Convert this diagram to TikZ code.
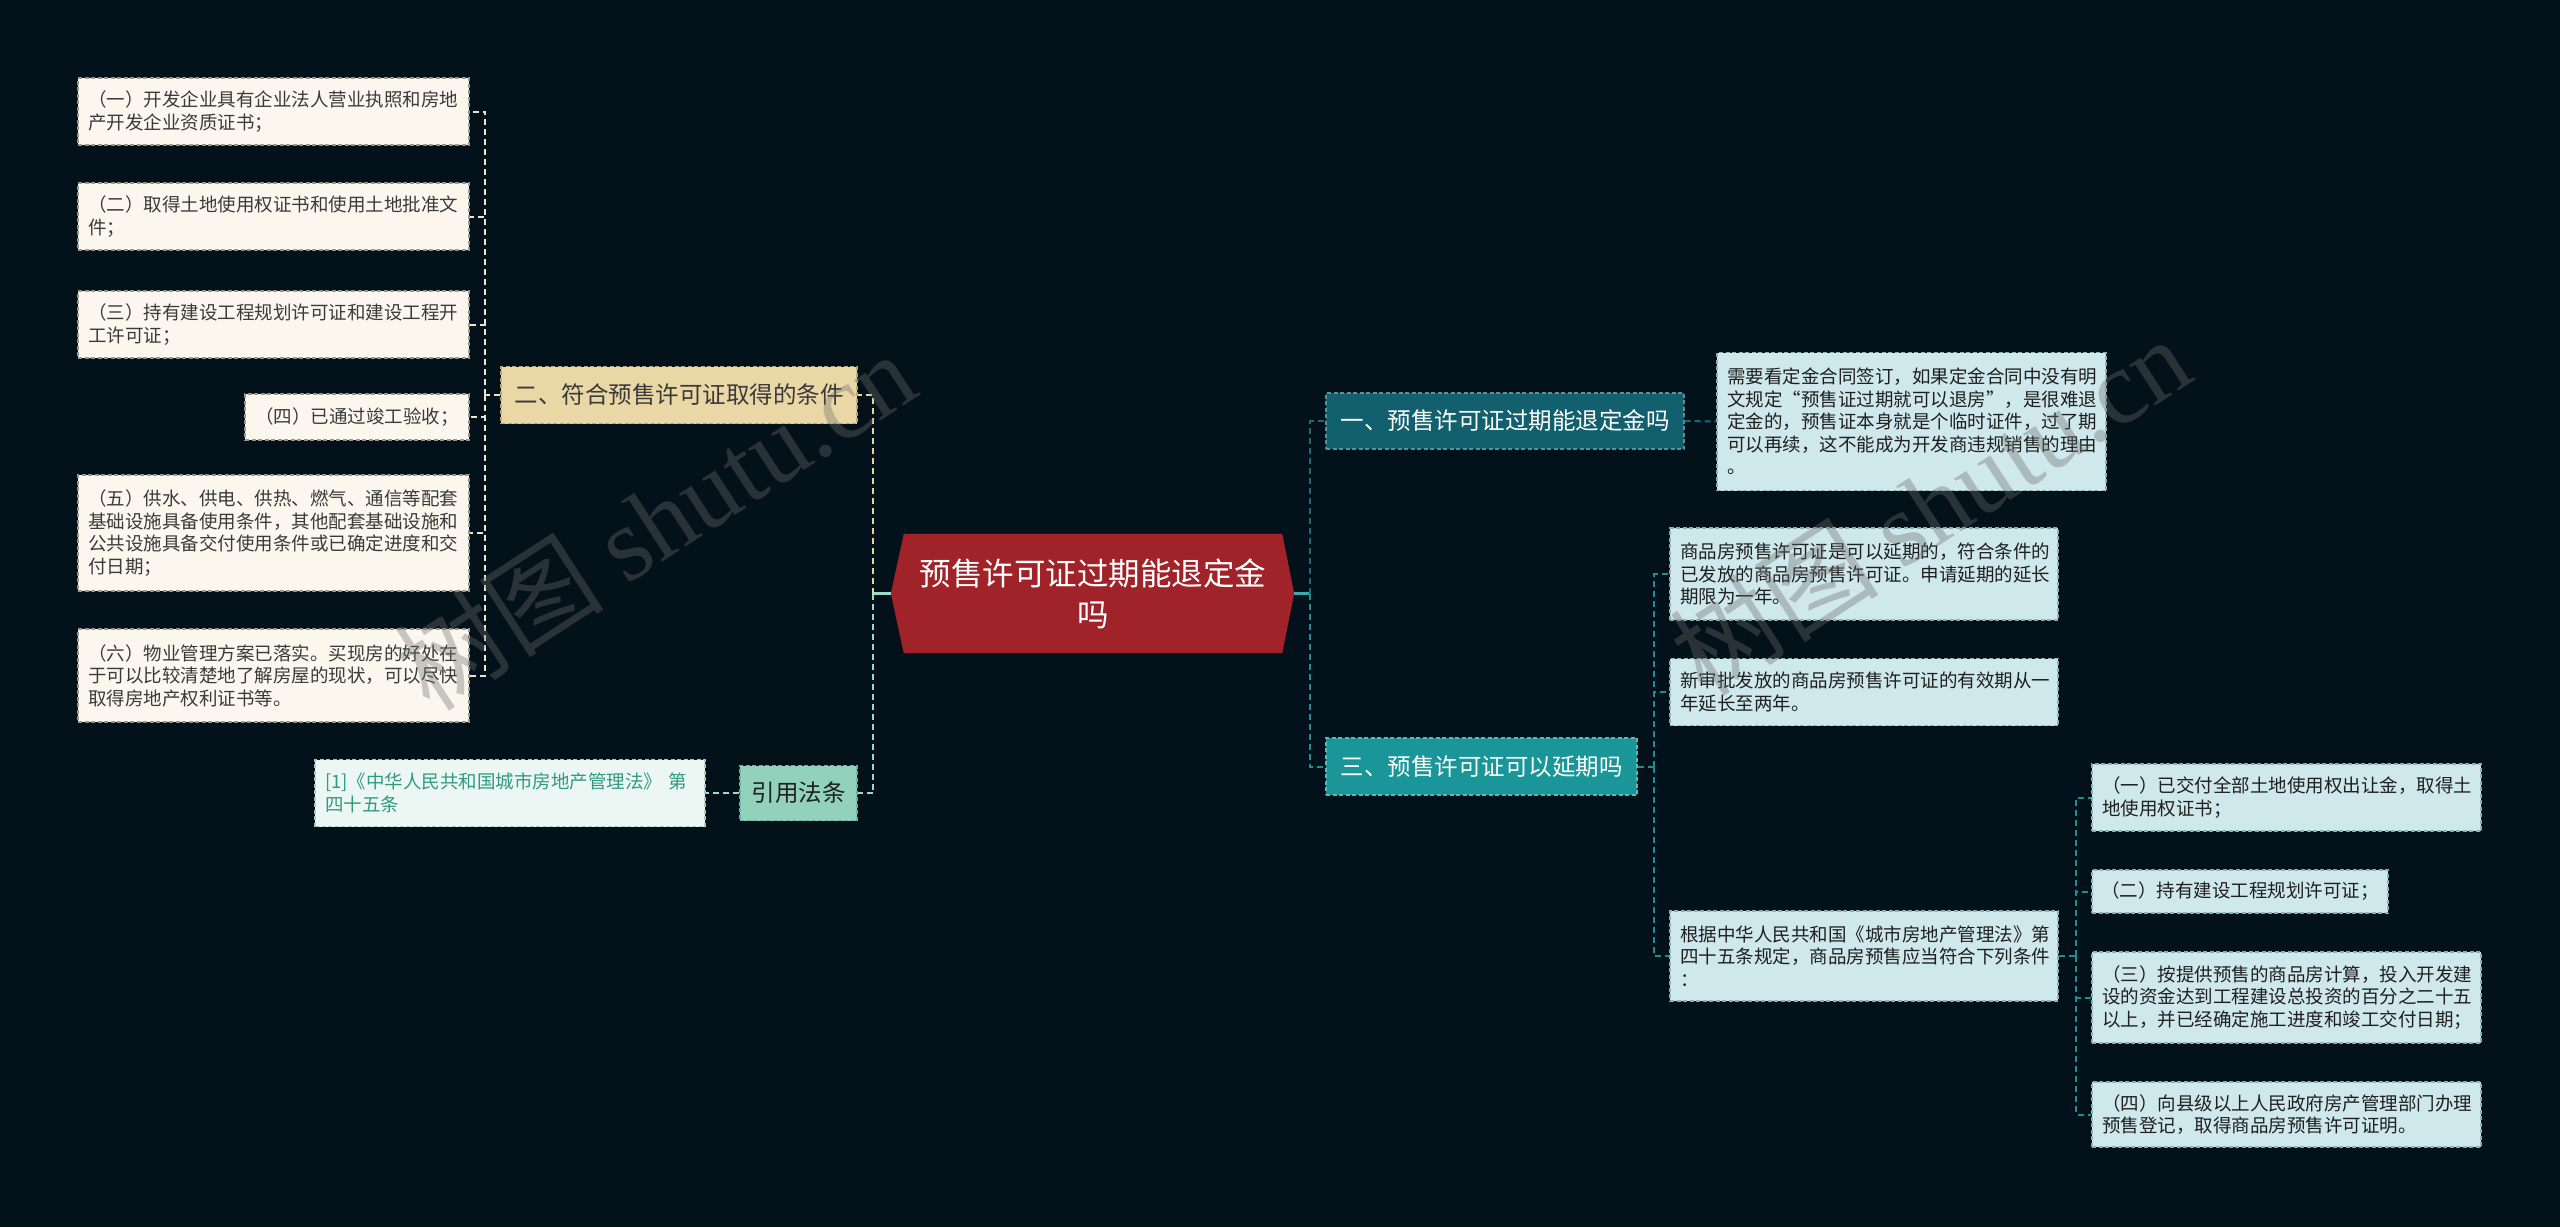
\documentclass[tikz,border=0pt]{standalone}
\usepackage{fontspec}
\setmainfont{Noto Sans CJK SC}
\newfontfamily\wmfont{Liberation Serif}
\usetikzlibrary{backgrounds,calc}
\definecolor{bgc}{HTML}{03111A}
\definecolor{creamfill}{HTML}{FBF7EE}
\definecolor{creamdraw}{HTML}{9C968A}
\definecolor{creamtext}{HTML}{3A3A3A}
\definecolor{tanfill}{HTML}{E9D7A5}
\definecolor{tandraw}{HTML}{B7A777}
\definecolor{mintfill}{HTML}{92D2BC}
\definecolor{mintdraw}{HTML}{6FAF98}
\definecolor{reffill}{HTML}{ECF7F3}
\definecolor{refdraw}{HTML}{A9C9BE}
\definecolor{reftext}{HTML}{2E9A7F}
\definecolor{redc}{HTML}{9F2329}
\definecolor{tealdark}{HTML}{12606E}
\definecolor{tealmid}{HTML}{1A9598}
\definecolor{cyanfill}{HTML}{CFE8EB}
\definecolor{cyandraw}{HTML}{8DB0B5}
\definecolor{darktext}{HTML}{1F1F1F}
\definecolor{lcream}{HTML}{EDE6CF}
\definecolor{lyellow}{HTML}{E3D69C}
\definecolor{lmint}{HTML}{9ED8C6}
\definecolor{ltealsolid}{HTML}{3BA8AE}
\definecolor{ltealdark}{HTML}{1C6A78}
\definecolor{ltealmid}{HTML}{1D8F94}
\definecolor{wmgray}{HTML}{6D6D6D}
\begin{document}
\begin{tikzpicture}[x=1pt,y=-1pt,
  base/.style={rectangle, inner xsep=10pt, inner ysep=0pt, align=left, line width=1.2pt, dash pattern=on 4pt off 2.5pt},
  sm/.style={font=\fontsize{18.5}{22.5}\selectfont},
  big/.style={font=\fontsize{23.5}{28}\selectfont},
  creambox/.style={base, sm, fill=creamfill, draw=creamdraw, text=creamtext},
  cyanbox/.style={base, sm, fill=cyanfill, draw=cyandraw, text=darktext},
  refbox/.style={base, sm, fill=reffill, draw=refdraw, text=reftext},
  tanbox/.style={base, big, fill=tanfill, draw=tandraw, text=creamtext, align=center, inner xsep=0pt},
  mintbox/.style={base, big, fill=mintfill, draw=mintdraw, text=darktext, align=center, inner xsep=0pt},
  tealbox/.style={base, big, fill=#1, draw=#1!70!white, text=white, align=center, inner xsep=0pt},
  centerbox/.style={rectangle, inner sep=0pt, align=center, text=white, font=\fontsize{31.5}{41}\selectfont},
  conn/.style={line width=2pt, dash pattern=on 6pt off 4pt},
  solidconn/.style={line width=2.2pt},
  wm/.style={text=wmgray, opacity=0.36, font=\fontsize{105}{110}\selectfont}
]
\useasboundingbox (0,0) rectangle (2560,1227);
\begin{scope}[on background layer]
  \fill[bgc] (0,0) rectangle (2560,1227);
\end{scope}

% ---------- centre ----------
\node[centerbox, minimum width=378pt, minimum height=119pt] (c) at (1093,593.5) {预售许可证过期能退定金\\吗};
\begin{scope}[on background layer]
  \fill[redc] (c.north west) -- (c.north east) -- ($(c.east)+(12,0)$) -- (c.south east) -- (c.south west) -- ($(c.west)+(-13,0)$) -- cycle;
\end{scope}
\coordinate (cw) at ($(c.west)+(-13,0)$);
\coordinate (ce) at ($(c.east)+(12,0)$);

% ---------- left side ----------
\node[creambox, minimum width=391pt, text width=371pt, minimum height=67pt] (b1) at (273.5,111.5) {（一）开发企业具有企业法人营业执照和房地\\产开发企业资质证书；};
\node[creambox, minimum width=391pt, text width=371pt, minimum height=67pt] (b2) at (273.5,216.5) {（二）取得土地使用权证书和使用土地批准文\\件；};
\node[creambox, minimum width=391pt, text width=371pt, minimum height=67pt] (b3) at (273.5,324.5) {（三）持有建设工程规划许可证和建设工程开\\工许可证；};
\node[creambox, minimum width=224pt, text width=204pt, minimum height=46pt] (b4) at (357,417) {（四）已通过竣工验收；};
\node[creambox, minimum width=391pt, text width=371pt, minimum height=116pt] (b5) at (273.5,533) {（五）供水、供电、供热、燃气、通信等配套\\基础设施具备使用条件，其他配套基础设施和\\公共设施具备交付使用条件或已确定进度和交\\付日期；};
\node[creambox, minimum width=391pt, text width=371pt, minimum height=93pt] (b6) at (273.5,675.5) {（六）物业管理方案已落实。买现房的好处在\\于可以比较清楚地了解房屋的现状，可以尽快\\取得房地产权利证书等。};

\node[tanbox, minimum width=356pt, minimum height=57pt] (n2) at (679,395) {二、符合预售许可证取得的条件};
\node[mintbox, minimum width=117pt, minimum height=55pt] (law) at (798.5,793) {引用法条};
\node[refbox, minimum width=390pt, text width=370pt, minimum height=67pt] (ref) at (510,793) {[1]《中华人民共和国城市房地产管理法》 第\\四十五条};

\coordinate (lv) at (485,395);
\coordinate (cl) at (873,593.5);

\draw[conn, lcream] (n2.west) -- (lv);
\foreach \b in {b1,b2,b3,b4,b5,b6} { \draw[conn, lcream] (lv) |- (\b.east); }
\draw[solidconn, lmint] (cw) -- (cl);
\draw[conn, lyellow] (cl) |- (n2.east);
\draw[conn, lmint] (cl) |- (law.east);
\draw[conn, lmint] (law.west) -- (ref.east);

% ---------- right side ----------
\node[tealbox=tealdark, minimum width=358pt, minimum height=56pt] (n1) at (1505,421) {一、预售许可证过期能退定金吗};
\node[cyanbox, minimum width=389pt, text width=369pt, minimum height=138pt] (t1) at (1911.5,421.5) {需要看定金合同签订，如果定金合同中没有明\\文规定“预售证过期就可以退房”，是很难退\\定金的，预售证本身就是个临时证件，过了期\\可以再续，这不能成为开发商违规销售的理由\\。};
\node[tealbox=tealmid, minimum width=311pt, minimum height=57pt] (n3) at (1481.5,766.5) {三、预售许可证可以延期吗};

\node[cyanbox, minimum width=388pt, text width=368pt, minimum height=92pt] (ca) at (1864,574) {商品房预售许可证是可以延期的，符合条件的\\已发放的商品房预售许可证。申请延期的延长\\期限为一年。};
\node[cyanbox, minimum width=388pt, text width=368pt, minimum height=67pt] (cb) at (1864,692) {新审批发放的商品房预售许可证的有效期从一\\年延长至两年。};
\node[cyanbox, minimum width=388pt, text width=368pt, minimum height=90pt] (cc) at (1864,956) {根据中华人民共和国《城市房地产管理法》第\\四十五条规定，商品房预售应当符合下列条件\\：};

\node[cyanbox, minimum width=389pt, text width=369pt, minimum height=67pt] (d1) at (2286.5,797.5) {（一）已交付全部土地使用权出让金，取得土\\地使用权证书；};
\node[cyanbox, minimum width=296pt, text width=278pt, minimum height=43pt, inner xsep=9pt] (d2) at (2240,891.5) {（二）持有建设工程规划许可证；};
\node[cyanbox, minimum width=389pt, text width=369pt, minimum height=91pt] (d3) at (2286.5,997.5) {（三）按提供预售的商品房计算，投入开发建\\设的资金达到工程建设总投资的百分之二十五\\以上，并已经确定施工进度和竣工交付日期；};
\node[cyanbox, minimum width=389pt, text width=369pt, minimum height=65pt] (d4) at (2286.5,1114.5) {（四）向县级以上人民政府房产管理部门办理\\预售登记，取得商品房预售许可证明。};

\coordinate (cr) at (1310,593.5);
\coordinate (rv) at (1654,766.5);
\coordinate (dv) at (2076,956);

\draw[solidconn, ltealsolid] (ce) -- (cr);
\draw[conn, ltealdark] (cr) |- (n1.west);
\draw[conn, ltealmid] (cr) |- (n3.west);
\draw[conn, ltealdark] (n1.east) -- (t1.west);
\draw[conn, ltealmid] (n3.east) -- (rv);
\foreach \b in {ca,cb,cc} { \draw[conn, ltealmid] (rv) |- (\b.west); }
\draw[conn, ltealmid] (cc.east) -- (dv);
\foreach \b in {d1,d2,d3,d4} { \draw[conn, ltealmid] (dv) |- (\b.west); }

% ---------- watermarks ----------
\node[wm, rotate=33] (wm1) at (655,520) {树图 {\wmfont shutu.cn}};
\node[wm, rotate=33] (wm2) at (1930,505) {树图 {\wmfont shutu.cn}};
\end{tikzpicture}
\end{document}
